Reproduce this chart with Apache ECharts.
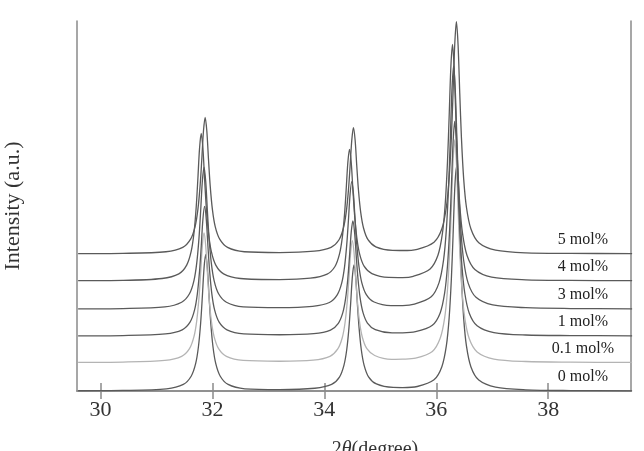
<!DOCTYPE html>
<html>
<head>
<meta charset="utf-8">
<script src="https://cdn.jsdelivr.net/npm/echarts@6/dist/echarts.min.js"></script>
<style>
html,body{margin:0;padding:0;background:#fff;}
#chart{width:644px;height:451px;}
</style>
</head>
<body>
<div id="chart"></div>
<script>
// ---- data ----
const seriesNames = ['0 mol%', '0.1 mol%', '1 mol%', '3 mol%', '4 mol%', '5 mol%'];
const baselines = [0, 1.04, 2.01, 3.0, 4.03, 5.02];
const xTicks = [30, 32, 34, 36, 38];

const x_0 = [29.6,30.4,
 31.18,31.48,31.62,31.70,31.75,31.79,31.82,31.85,31.88,31.91,31.94,31.97,32.01,32.06,32.14,32.28,32.58,
 33.2,
 33.83,34.13,34.27,34.35,34.40,34.44,34.47,34.50,34.53,34.56,34.59,34.62,34.66,34.71,34.79,34.93,35.23,
 35.4,
 35.66,35.96,36.10,36.18,36.23,36.27,36.30,36.33,36.36,36.39,36.42,36.45,36.49,36.54,36.62,36.76,37.06,
 37.6,38.4,39.5];
const y_0 = [0.01,0.02,
 0.08,0.24,0.54,1.0,1.62,2.5,3.46,4.5,5.0,4.5,3.46,2.5,1.62,1.0,0.54,0.24,0.08,
 0.05,
 0.10,0.24,0.51,0.94,1.51,2.32,3.20,4.16,4.62,4.17,3.21,2.33,1.52,0.95,0.52,0.26,0.13,
 0.125,
 0.165,0.41,0.89,1.65,2.67,4.11,5.68,7.39,8.21,7.38,5.67,4.10,2.66,1.64,0.88,0.40,0.14,
 0.044,0.016,0.007];

const x_01 = [29.6,30.4,
 31.15,31.45,31.59,31.67,31.72,31.76,31.79,31.82,31.85,31.88,31.91,31.94,31.98,32.03,32.11,32.25,32.55,
 33.2,
 33.80,34.10,34.24,34.32,34.37,34.41,34.44,34.47,34.50,34.53,34.56,34.59,34.63,34.68,34.76,34.90,35.20,
 35.4,
 35.63,35.93,36.07,36.15,36.20,36.24,36.27,36.30,36.33,36.36,36.39,36.42,36.46,36.51,36.59,36.73,37.03,
 37.6,38.4,39.5];
const y_01 = [1.05,1.06,
 1.12,1.27,1.55,1.99,2.58,3.42,4.33,5.32,5.79,5.32,4.33,3.42,2.58,1.99,1.55,1.27,1.12,
 1.09,
 1.13,1.27,1.54,1.95,2.50,3.29,4.14,5.07,5.51,5.08,4.15,3.30,2.51,1.96,1.55,1.30,1.16,
 1.165,
 1.20,1.45,1.93,2.68,3.69,5.13,6.69,8.39,9.20,8.38,6.68,5.12,3.68,2.67,1.91,1.43,1.17,
 1.08,1.056,1.047];

const x_1 = [29.6,30.4,
 31.16,31.46,31.60,31.68,31.73,31.77,31.80,31.83,31.86,31.89,31.92,31.95,31.99,32.04,32.12,32.26,32.56,
 33.2,
 33.81,34.11,34.25,34.33,34.38,34.42,34.45,34.48,34.51,34.54,34.57,34.60,34.64,34.69,34.77,34.91,35.21,
 35.4,
 35.63,35.93,36.07,36.15,36.20,36.24,36.27,36.30,36.33,36.36,36.39,36.42,36.46,36.51,36.59,36.73,37.03,
 37.6,38.4,39.5];
const y_1 = [2.02,2.03,
 2.09,2.24,2.52,2.96,3.55,4.39,5.30,6.29,6.76,6.29,5.30,4.39,3.55,2.96,2.52,2.24,2.09,
 2.06,
 2.10,2.23,2.48,2.87,3.39,4.13,4.94,5.81,6.23,5.82,4.95,4.14,3.40,2.88,2.49,2.25,2.13,
 2.13,
 2.17,2.41,2.86,3.59,4.57,5.95,7.46,9.09,9.87,9.08,7.44,5.94,4.55,3.58,2.85,2.39,2.14,
 2.05,2.03,2.02];

const x_3 = [29.6,30.4,
 31.15,31.45,31.59,31.67,31.72,31.76,31.79,31.82,31.85,31.88,31.91,31.94,31.98,32.03,32.11,32.25,32.55,
 33.2,
 33.79,34.09,34.23,34.31,34.36,34.40,34.43,34.46,34.49,34.52,34.55,34.58,34.62,34.67,34.75,34.89,35.19,
 35.4,
 35.61,35.91,36.05,36.13,36.18,36.22,36.25,36.28,36.31,36.34,36.37,36.40,36.44,36.49,36.57,36.71,37.01,
 37.6,38.4,39.5];
const y_3 = [3.01,3.02,
 3.08,3.25,3.56,4.04,4.69,5.60,6.60,7.68,8.20,7.68,6.60,5.60,4.69,4.04,3.56,3.25,3.08,
 3.05,
 3.10,3.24,3.52,3.95,4.53,5.35,6.24,7.21,7.67,7.22,6.25,5.36,4.54,3.96,3.53,3.26,3.13,
 3.13,
 3.18,3.45,3.97,4.79,5.90,7.46,9.17,11.02,11.91,11.01,9.16,7.45,5.88,4.78,3.95,3.43,3.15,
 3.05,3.02,3.01];

const x_4 = [29.6,30.4,
 31.10,31.40,31.54,31.62,31.67,31.71,31.74,31.77,31.80,31.83,31.86,31.89,31.93,31.98,32.06,32.20,32.50,
 33.2,
 33.75,34.05,34.19,34.27,34.32,34.36,34.39,34.42,34.45,34.48,34.51,34.54,34.58,34.63,34.71,34.85,35.15,
 35.4,
 35.59,35.89,36.03,36.11,36.16,36.20,36.23,36.26,36.29,36.32,36.35,36.38,36.42,36.47,36.55,36.69,36.99,
 37.6,38.4,39.5];
const y_4 = [4.04,4.05,
 4.12,4.29,4.61,5.11,5.78,6.73,7.77,8.89,9.43,8.89,7.77,6.73,5.78,5.11,4.61,4.29,4.12,
 4.08,
 4.13,4.28,4.56,5.01,5.61,6.45,7.37,8.37,8.85,8.38,7.38,6.46,5.62,5.02,4.57,4.30,4.16,
 4.155,
 4.20,4.47,4.97,5.77,6.85,8.37,10.03,11.83,12.69,11.82,10.02,8.36,6.83,5.76,4.96,4.45,4.17,
 4.07,4.05,4.04];

const x_5 = [29.6,30.4,
 31.17,31.47,31.61,31.69,31.74,31.78,31.81,31.84,31.87,31.90,31.93,31.96,32.00,32.05,32.13,32.27,32.57,
 33.2,
 33.82,34.12,34.26,34.34,34.39,34.43,34.46,34.49,34.52,34.55,34.58,34.61,34.65,34.70,34.78,34.92,35.22,
 35.4,
 35.66,35.96,36.10,36.18,36.23,36.27,36.30,36.33,36.36,36.39,36.42,36.45,36.49,36.54,36.62,36.76,37.06,
 37.6,38.4,39.5];
const y_5 = [5.03,5.04,
 5.10,5.26,5.56,6.02,6.64,7.52,8.48,9.52,10.02,9.52,8.48,7.52,6.64,6.02,5.56,5.26,5.10,
 5.07,
 5.12,5.26,5.53,5.96,6.53,7.34,8.22,9.18,9.64,9.19,8.23,7.35,6.54,5.97,5.54,5.28,5.15,
 5.145,
 5.19,5.45,5.94,6.73,7.79,9.28,10.92,12.68,13.53,12.67,10.90,9.27,7.77,6.72,5.93,5.43,5.16,
 5.06,5.04,5.03];

const xs = [x_0, x_01, x_1, x_3, x_4, x_5];
const ys = [y_0, y_01, y_1, y_3, y_4, y_5];

// ---- style ----
const lineColors = ['#5a5a5a', '#b4b4b4', '#5a5a5a', '#5a5a5a', '#5a5a5a', '#5a5a5a'];
const serif = "'Liberation Serif','DejaVu Serif',serif";
const axisColor = '#8a8a8a';
const labelX = 38.62;

const series = seriesNames.map((nm, i) => ({
  name: nm,
  type: 'line',
  showSymbol: false,
  symbol: 'none',
  smooth: 0.3,
  data: xs[i].map((x, k) => [x, ys[i][k]]),
  lineStyle: {color: lineColors[i], width: 1.3},
  z: 2,
  markPoint: {
    symbol: 'rect',
    symbolSize: 1,
    itemStyle: {color: 'rgba(0,0,0,0)'},
    label: {show: true, position: 'inside', formatter: '{b}', color: '#222',
            fontFamily: serif, fontSize: 16},
    data: [{name: nm, coord: [labelX, baselines[i] + 0.52]}]
  }
}));

const chart = echarts.init(document.getElementById('chart'), null, {renderer: 'canvas'});
chart.setOption({
  animation: false,
  backgroundColor: '#fff',
  grid: {left: 77, right: 13, top: 21, bottom: 60, containLabel: false, outerBoundsMode: 'none'},
  xAxis: [{
    type: 'value', min: 29.58, max: 39.48, position: 'bottom',
    axisLine: {show: true, lineStyle: {color: axisColor, width: 1.5}},
    axisTick: {show: true, inside: true, length: 8, customValues: xTicks,
               lineStyle: {color: axisColor, width: 1.5}},
    axisLabel: {show: true, customValues: xTicks, fontFamily: serif, fontSize: 22,
                color: '#333', margin: 8},
    splitLine: {show: false},
    name: '{n|2}{i|θ}{n|(degree)}',
    nameLocation: 'middle', nameGap: 49,
    nameTextStyle: {padding: [0, 0, 0, 42], rich: {
      n: {fontFamily: serif, fontSize: 20, color: '#333'},
      i: {fontFamily: serif, fontSize: 20, fontStyle: 'italic', color: '#333'}
    }}
  }, {
    type: 'value', min: 29.58, max: 39.48, position: 'top',
    axisLine: {show: true, lineStyle: {color: axisColor, width: 1.5}},
    axisTick: {show: true, inside: true, length: 8, customValues: xTicks,
               lineStyle: {color: axisColor, width: 1.5}},
    axisLabel: {show: false},
    splitLine: {show: false}
  }],
  yAxis: [{
    type: 'value', min: 0, max: 13.55, position: 'left',
    axisLine: {show: true, lineStyle: {color: axisColor, width: 1.5}},
    axisTick: {show: false}, axisLabel: {show: false}, splitLine: {show: false},
    name: 'Intensity (a.u.)', nameLocation: 'middle', nameGap: 53, nameRotate: 90,
    nameTextStyle: {fontFamily: serif, fontSize: 22, color: '#333'}
  }, {
    type: 'value', min: 0, max: 13.55, position: 'right',
    axisLine: {show: true, lineStyle: {color: axisColor, width: 1.5}},
    axisTick: {show: false}, axisLabel: {show: false}, splitLine: {show: false}
  }],
  series: series
});
</script>
</body>
</html>
